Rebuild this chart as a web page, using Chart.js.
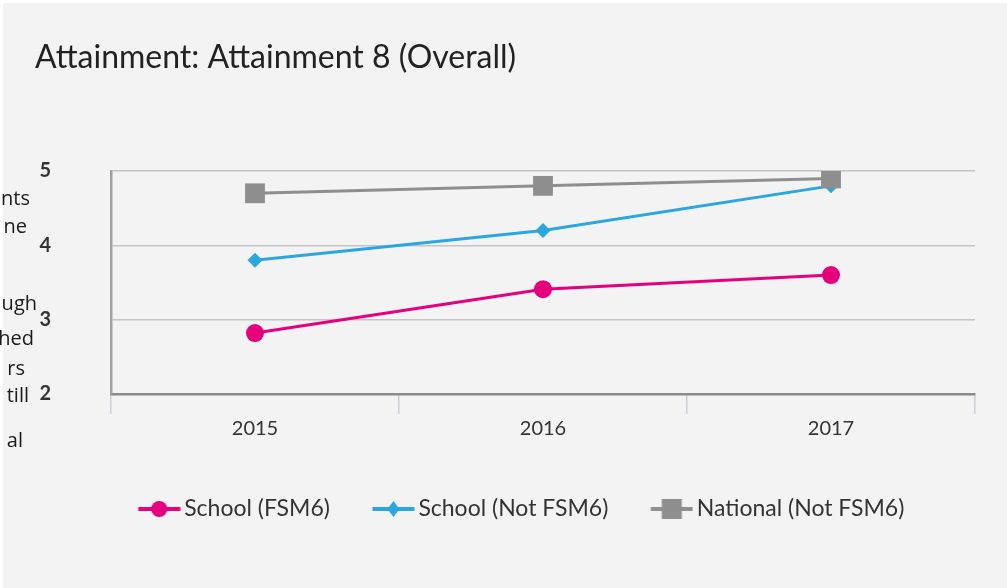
<!DOCTYPE html>
<html><head><meta charset="utf-8">
<script src="https://cdn.jsdelivr.net/npm/chart.js@4.4.0/dist/chart.umd.min.js"></script>
<style>
html,body{margin:0;padding:0;background:#fff;}
#wrap{position:relative;width:1007px;height:588px;overflow:hidden;}
canvas{position:absolute;left:0;top:0;}
.frag{position:absolute;font-family:"Open Sans",Lato,sans-serif;font-size:20px;color:#1a1a1a;line-height:24px;white-space:nowrap;}
</style></head>
<body>
<div id="wrap"><canvas id="c" width="1007" height="588"></canvas></div>
<script>
const years = ['2015','2016','2017'];
const schoolFSM6 = [2.82, 3.41, 3.6];
const schoolNotFSM6 = [3.8, 4.2, 4.8];
const nationalNotFSM6 = [4.7, 4.8, 4.9];
const seriesNames = ['School (FSM6)','School (Not FSM6)','National (Not FSM6)'];
const yTicks = [2,3,4,5];
const fragments = ['nts','ne','ugh','hed','rs','till','al'];
const fragY = [198,226,303,338,368,395,440];
const fragEnd = [30,27,37,34,25,29,23];

const wrap = document.getElementById('wrap');
fragments.forEach((t,i)=>{
  const d=document.createElement('div');d.className='frag';d.textContent=t;
  d.style.right=(1007-fragEnd[i])+'px';d.style.top=(fragY[i]-12)+'px';wrap.appendChild(d);
});

const colors = ['#e5007d','#2aa7df','#8e8e8e'];
const styles = ['circle','rectRot','rect'];
const radii = [9,7.5,14];

function legendIcon(i){
  const c=document.createElement('canvas');c.width=52;c.height=22;
  const x=c.getContext('2d');
  const x0=9.5,x1=51.5,cx=30.5;
  x.strokeStyle=colors[i];x.lineWidth=4;x.beginPath();x.moveTo(x0,11);x.lineTo(x1,11);x.stroke();
  x.fillStyle=colors[i];x.beginPath();
  if(i===0){x.arc(cx,11,8,0,Math.PI*2);}
  else if(i===1){x.moveTo(cx,3);x.lineTo(cx+6,11);x.lineTo(cx,19);x.lineTo(cx-6,11);x.closePath();}
  else {x.rect(cx-10,1,20,20);}
  x.fill();
  return c;
}
const icons=[0,1,2].map(legendIcon);

const bgPlugin={id:'bg',
  beforeDraw(ch){const ctx=ch.ctx;ctx.save();ctx.fillStyle='#fff';ctx.fillRect(0,0,ch.width,ch.height);ctx.fillStyle='#f3f3f3';ctx.fillRect(3,3,ch.width,ch.height);ctx.restore();},
  afterLayout(ch){ if(ch.legend){ ch.legend.left += 31; } }
};

const data=[schoolFSM6,schoolNotFSM6,nationalNotFSM6];
new Chart(document.getElementById('c'),{
  type:'line',
  data:{labels:years,datasets:data.map((d,i)=>({
    label:seriesNames[i],data:d,borderColor:colors[i],backgroundColor:colors[i],
    borderWidth:3,pointStyle:styles[i],pointRadius:radii[i],pointHoverRadius:radii[i],
    pointBorderWidth:0,tension:0,order:[0,2,1][i]
  }))},
  options:{
    responsive:false,animation:false,devicePixelRatio:1,
    layout:{padding:{left:35,right:32,top:0,bottom:57.5}},
    plugins:{
      title:{display:true,text:'Attainment: Attainment 8 (Overall)',align:'start',color:'#222',
        font:{family:'Lato',size:32,weight:'normal'},padding:{top:38.8,bottom:93.8}},
      legend:{position:'bottom',labels:{usePointStyle:true,pointStyleWidth:36,boxHeight:22,padding:41,color:'#333',
        font:{family:'Lato',size:23},
        generateLabels:()=>seriesNames.map((n,i)=>({text:n,pointStyle:icons[i],fillStyle:colors[i],strokeStyle:colors[i],lineWidth:0,datasetIndex:i,fontColor:'#333'}))}},
      tooltip:{enabled:false}
    },
    scales:{
      x:{offset:true,afterFit(s){s.height=62.5;},
        grid:{offset:true,drawOnChartArea:false,drawTicks:true,tickLength:20,color:'#c5d0de',lineWidth:1.5},
        border:{color:'#8a8a8a',width:2.5},
        ticks:{color:'#333',padding:3,font:{family:'Lato',size:20}}},
      y:{min:2,max:5,afterFit(s){s.width=76;},afterBuildTicks(s){s.ticks=yTicks.map(v=>({value:v}));},
        grid:{drawTicks:false,color:'#c4c4c4',lineWidth:1.5},
        border:{color:'#a0a0a0',width:2.5},
        ticks:{color:'#333',padding:60,font:{family:'Lato',size:20,weight:'bold'}}}
    }
  },
  plugins:[bgPlugin]
});
</script>
</body></html>
